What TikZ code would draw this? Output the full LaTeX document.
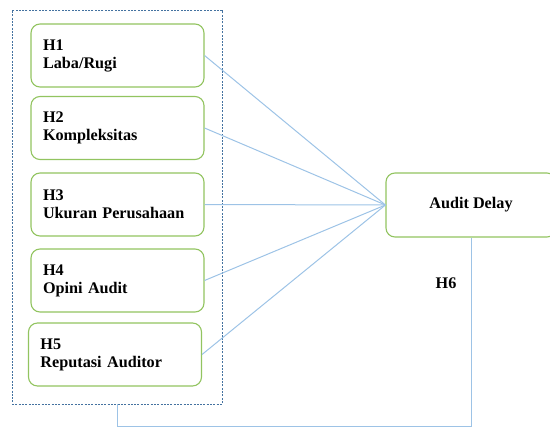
\documentclass[tikz,border=0pt]{standalone}
\usepackage{fontspec}
\setmainfont{Liberation Serif}
\usetikzlibrary{positioning}

\definecolor{boxgreen}{RGB}{146,196,96}
\definecolor{linkblue}{RGB}{157,195,230}
\definecolor{framedash}{RGB}{68,114,160}

\tikzset{
  hbox/.style={draw=boxgreen,line width=1.1pt,rounded corners=9pt,fill=white,
    minimum width=173pt,minimum height=63pt,inner xsep=12pt,
    text width=149pt,align=left,font=\fontsize{16.2}{18}\selectfont\bfseries},
  link/.style={draw=linkblue,line width=1pt},
}

\begin{document}
\begin{tikzpicture}[x=1pt,y=-1pt]
        \useasboundingbox (0,0) rectangle (550,428);

        \node [draw=framedash,line width=0.9pt,dash pattern=on 2pt off 1.3pt,
               minimum width=210pt,minimum height=394pt] (frame) at (117,207) {};

        \node [hbox] (h1) at (117.5,55.5) {H1\\Laba/Rugi};
        \node [hbox] (h2) at (117.5,128) {H2\\Kompleksitas};
        \node [hbox] (h3) at (117.5,204.5) {H3\\Ukuran Perusahaan};
        \node [hbox] (h4) at (117.5,280.5) {H4\\Opini Audit};
        \node [hbox] (h5) at (115,354.5) {H5\\Reputasi Auditor};

        \node [hbox,minimum width=170pt,minimum height=64pt,text width=,align=center] (delay) at (471,205) {Audit Delay};

        \foreach \h in {h1,h2,h3,h4,h5}
          \draw [link] (\h.east) -- (delay.west);

        \draw [link] (frame.south) -- ++(0,22) -| (delay.south);

        \node [font=\fontsize{16.2}{18}\selectfont\bfseries] (h6) at (446,283) {H6};
\end{tikzpicture}
\end{document}
